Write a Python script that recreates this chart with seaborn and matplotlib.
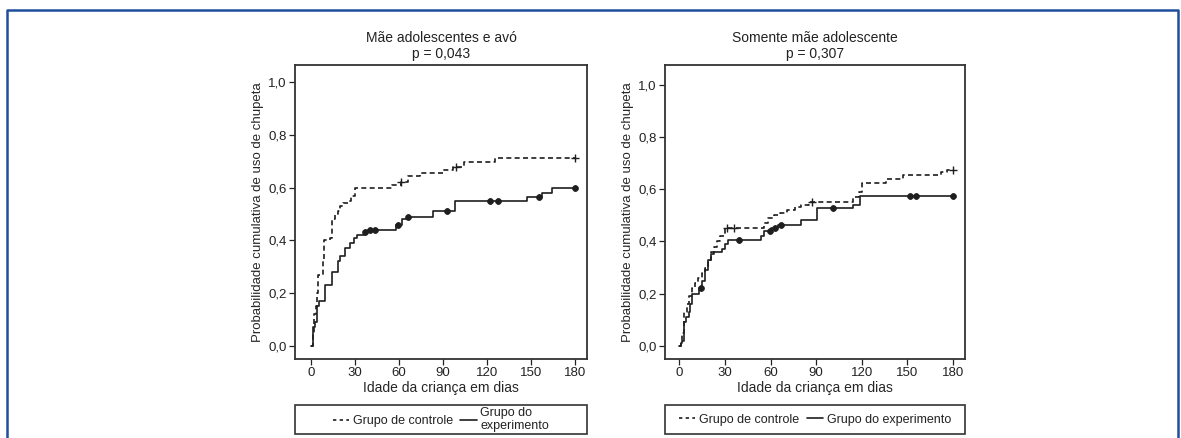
import numpy as np
import pandas as pd
import matplotlib
matplotlib.use("Agg")
import matplotlib.pyplot as plt
import seaborn as sns
from matplotlib.lines import Line2D
from matplotlib.patches import Rectangle

# ---------------- data ----------------
titles = ["Mãe adolescentes e avó\np = 0,043", "Somente mãe adolescente\np = 0,307"]
x_ticks = [0, 30, 60, 90, 120, 150, 180]
y_ticks = [0.0, 0.2, 0.4, 0.6, 0.8, 1.0]
y_tick_labels = ["0,0", "0,2", "0,4", "0,6", "0,8", "1,0"]
label_ctrl = "Grupo de controle"
label_exp_left = "Grupo do\nexperimento"
label_exp_right = "Grupo do experimento"

# Left panel: control group
l_ctrl_t = [0, 1, 2, 3, 4, 5, 8, 9, 13, 14, 16, 18, 20, 22, 25, 27, 30, 55, 61, 66, 74, 90, 97, 104, 125]
l_ctrl_v = [0, 0.04, 0.12, 0.15, 0.20, 0.27, 0.33, 0.40, 0.41, 0.48, 0.50, 0.51, 0.53, 0.54, 0.55, 0.57, 0.60,
            0.61, 0.62, 0.645, 0.655, 0.665, 0.68, 0.698, 0.712]
l_ctrl_cens = [61, 99, 180]
# Left panel: experiment group
l_exp_t = [0, 1, 2.5, 4, 5.5, 9.5, 14, 18, 20, 23, 26.5, 29, 31, 36, 38.5, 58, 62, 65, 83, 98, 147, 157, 164]
l_exp_v = [0, 0.07, 0.09, 0.15, 0.17, 0.23, 0.28, 0.32, 0.34, 0.37, 0.39, 0.41, 0.42, 0.43, 0.44,
           0.46, 0.48, 0.49, 0.51, 0.55, 0.565, 0.58, 0.60]
l_exp_cens = [37, 40, 43.5, 59, 66, 92.5, 122, 127.5, 155, 180]

# Right panel: control group
r_ctrl_t = [0, 1, 2, 3, 5, 6, 8, 10, 12, 15, 17, 19, 21, 23, 25, 27, 30, 56, 58, 62, 66, 71, 76, 80, 85,
            114, 118, 120, 136, 147, 172, 176]
r_ctrl_v = [0, 0.01, 0.05, 0.13, 0.16, 0.19, 0.22, 0.24, 0.26, 0.28, 0.30, 0.33, 0.36, 0.38, 0.40, 0.42, 0.45,
            0.47, 0.49, 0.50, 0.51, 0.52, 0.53, 0.54, 0.55, 0.57, 0.59, 0.625, 0.64, 0.655, 0.665, 0.675]
r_ctrl_cens = [31, 36, 87, 180]
# Right panel: experiment group
r_exp_t = [0, 1, 2, 3, 4.5, 6, 7, 8.5, 13, 15, 17, 19, 21, 23, 28, 30, 32, 54, 56, 60, 65, 80, 90.5, 114, 119]
r_exp_v = [0, 0.01, 0.02, 0.09, 0.11, 0.13, 0.16, 0.20, 0.22, 0.25, 0.29, 0.33, 0.35, 0.36, 0.37, 0.39, 0.405,
           0.42, 0.44, 0.45, 0.462, 0.48, 0.528, 0.54, 0.575]
r_exp_cens = [14.5, 39, 59.5, 63, 67, 101, 152, 156, 180]

# ---------------- style ----------------
sns.set_style("ticks")
plt.rcParams["font.family"] = ["Liberation Sans", "DejaVu Sans"]
plt.rcParams["axes.edgecolor"] = "#222222"
plt.rcParams["xtick.color"] = "#222222"
plt.rcParams["ytick.color"] = "#222222"
plt.rcParams["text.color"] = "#222222"

W, H = 1181, 438
fig = plt.figure(figsize=(W / 100, H / 100), dpi=100)

line_col = "#1e1e1e"


def step_value(t, v, x):
    idx = np.searchsorted(np.asarray(t), x, side="right") - 1
    return np.asarray(v)[idx]


def px_axes(x0, y0, x1, y1):
    return fig.add_axes([x0 / W, 1 - y1 / H, (x1 - x0) / W, (y1 - y0) / H])


panels = [
    dict(box=(295, 65, 587, 359), xlim=(-11, 188), ylim=(-0.05, 1.065),
         ctrl=(l_ctrl_t, l_ctrl_v, l_ctrl_cens), exp=(l_exp_t, l_exp_v, l_exp_cens),
         exp_label=label_exp_left),
    dict(box=(665, 65, 965, 359), xlim=(-9.5, 188), ylim=(-0.05, 1.075),
         ctrl=(r_ctrl_t, r_ctrl_v, r_ctrl_cens), exp=(r_exp_t, r_exp_v, r_exp_cens),
         exp_label=label_exp_right),
]

for i, p in enumerate(panels):
    ax = px_axes(*p["box"])
    for key, ls, mk in [("ctrl", (0, (3, 2)), "+"), ("exp", "-", "o")]:
        t, v, cens = p[key]
        t_full = list(t) + [180]
        v_full = list(v) + [v[-1]]
        df = pd.DataFrame({"t": t_full, "v": v_full})
        sns.lineplot(data=df, x="t", y="v", ax=ax, drawstyle="steps-post", color=line_col,
                     linewidth=1.2, linestyle=ls, estimator=None, sort=False)
        cy = [step_value(t, v, c) for c in cens]
        cdf = pd.DataFrame({"t": cens, "v": cy})
        if mk == "o":
            sns.scatterplot(data=cdf, x="t", y="v", ax=ax, marker="o", s=18, color=line_col,
                            edgecolor=line_col, linewidth=0.5, zorder=5)
            sns.scatterplot(data=cdf, x="t", y="v", ax=ax, marker="|", s=22, color=line_col,
                            linewidth=0.9, zorder=5)
        else:
            sns.scatterplot(data=cdf, x="t", y="v", ax=ax, marker="+", s=28, color=line_col,
                            linewidth=1.0, zorder=5)
    ax.set_xlim(*p["xlim"])
    ax.set_ylim(*p["ylim"])
    ax.set_xticks(x_ticks)
    ax.set_yticks(y_ticks)
    ax.set_yticklabels(y_tick_labels)
    ax.tick_params(axis="both", labelsize=9.5, length=4, width=0.9, direction="out", pad=2)
    for s in ax.spines.values():
        s.set_visible(True)
        s.set_linewidth(1.3)
        s.set_color("#333333")
    ax.set_xlabel("Idade da criança em dias", fontsize=10, labelpad=1)
    ax.set_ylabel("Probabilidade cumulativa de uso de chupeta", fontsize=9.5, labelpad=3)
    ax.set_title(titles[i], fontsize=10, pad=5, linespacing=1.15)

    # legend box below axes
    x0, y0, x1, y1 = p["box"]
    fig.patches.append(Rectangle((x0 / W, 1 - 434 / H), (x1 - x0) / W, 29 / H,
                                 transform=fig.transFigure, fill=False,
                                 edgecolor="#333333", linewidth=1.2))
    handles = [Line2D([], [], color=line_col, linestyle=(0, (2, 2)), linewidth=1.2),
               Line2D([], [], color=line_col, linestyle="-", linewidth=1.2)]
    fig.legend(handles, [label_ctrl, p["exp_label"]], loc="center",
               bbox_to_anchor=((x0 + x1) / 2 / W, 1 - 419.5 / H), ncol=2, frameon=False,
               fontsize=9, handlelength=1.3, handletextpad=0.3, columnspacing=0.6,
               borderaxespad=0, labelspacing=0.1)

# blue outer frame (top, left, right)
blue = "#1f4f9c"
fig.add_artist(Line2D([7 / W, 7 / W, 1178 / W, 1178 / W], [-0.05, 1 - 10 / H, 1 - 10 / H, -0.05],
                      transform=fig.transFigure, color=blue, linewidth=1.8))

fig.savefig("out.png", dpi=100)
